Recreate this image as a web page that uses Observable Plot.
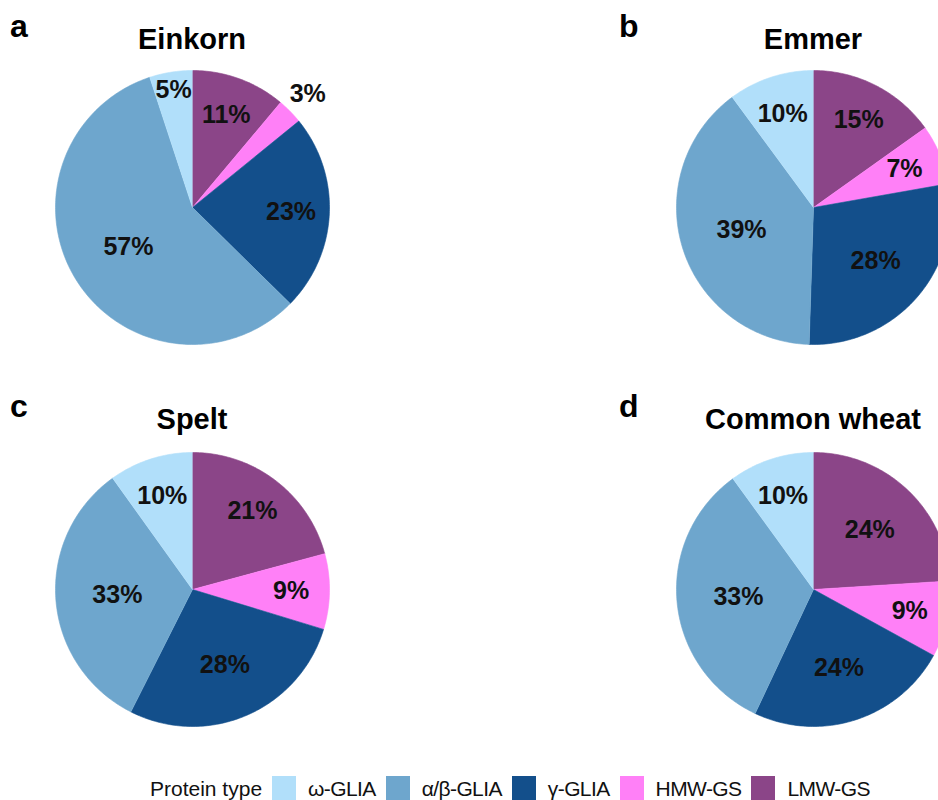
<!DOCTYPE html>
<html>
<head>
<meta charset="utf-8">
<script src="https://cdn.jsdelivr.net/npm/d3@7"></script>
<script src="https://cdn.jsdelivr.net/npm/@observablehq/plot@0.6"></script>
<style>
  html, body { margin: 0; padding: 0; background: #fff; }
  #root { position: relative; width: 938px; height: 800px; overflow: hidden; font-family: "Liberation Sans", Arial, sans-serif; }
  .letter { position: absolute; font-size: 32px; font-weight: bold; line-height: 1; color: #000; }
  .title { position: absolute; width: 400px; text-align: center; font-size: 29px; font-weight: bold; line-height: 1; color: #000; white-space: nowrap; }
  .pie { position: absolute; }
  .pie svg { max-width: none !important; display: block; }
  #legend { position: absolute; left: 150px; top: 776px; display: flex; align-items: center; font-size: 21px; line-height: 1; color: #111; white-space: nowrap; }
  #legend .sw { width: 24px; height: 24px; margin-left: 10px; }
  #legend .lb { margin-left: 12px; letter-spacing: -0.6px; }
</style>
</head>
<body>
<div id="root"></div>
<script>
// ---- data ----
const types = ["ω-GLIA", "α/β-GLIA", "γ-GLIA", "HMW-GS", "LMW-GS"];
const colors = ["#b1dffa", "#6ea6cd", "#134f8b", "#ff80f7", "#8b4588"];
const panelLetters = ["a", "b", "c", "d"];
const panelTitles = ["Einkorn", "Emmer", "Spelt", "Common wheat"];
// values (%) in the order of `types`
const einkorn = [5, 57, 23, 3, 11];
const emmer = [10, 39, 28, 7, 15];
const spelt = [10, 33, 28, 9, 21];
const commonWheat = [10, 33, 24, 9, 24];
const legendTitle = "Protein type";

// ---- layout ----
const R = 137;           // pie radius in px
const W = 380, H = 300;  // pie svg size
const centers = [[192, 207], [813, 207], [192, 589], [813, 589]];
const panelValues = [einkorn, emmer, spelt, commonWheat];
const sliceOrder = [4, 3, 2, 1, 0]; // clockwise from 12 o'clock: LMW, HMW, γ, α/β, ω

function labelRadius(share) {
  if (share < 0.04) return 1.18;
  if (share < 0.06) return 0.87;
  if (share < 0.235) return 0.72;
  if (share < 0.3) return 0.6;
  return 0.55;
}

function piePlot(values) {
  const total = d3.sum(values);
  let acc = 0;
  const poly = [], labels = [];
  for (const i of sliceOrder) {
    const v = values[i];
    const a0 = acc / total * 2 * Math.PI;
    acc += v;
    const a1 = acc / total * 2 * Math.PI;
    const n = Math.max(2, Math.ceil((a1 - a0) / (Math.PI / 180)));
    poly.push({type: types[i], x: 0, y: 0});
    for (let k = 0; k <= n; k++) {
      const a = a0 + (a1 - a0) * k / n;
      poly.push({type: types[i], x: Math.sin(a), y: Math.cos(a)});
    }
    const am = (a0 + a1) / 2;
    const rf = labelRadius(v / total);
    labels.push({type: types[i], value: v, x: rf * Math.sin(am), y: rf * Math.cos(am)});
  }
  return Plot.plot({
    width: W, height: H, margin: 0,
    x: {domain: [-W / 2 / R, W / 2 / R], axis: null},
    y: {domain: [-H / 2 / R, H / 2 / R], axis: null},
    color: {domain: types, range: colors},
    style: {fontFamily: '"Liberation Sans", Arial, sans-serif', background: "transparent", overflow: "visible", maxWidth: "none"},
    marks: [
      Plot.line(poly, {x: "x", y: "y", z: "type", fill: "type", stroke: "type", strokeWidth: 0.6}),
      Plot.text(labels, {x: "x", y: "y", text: d => d.value + "%", fontSize: 25, fontWeight: "bold", fill: "#111"})
    ]
  });
}

const root = document.getElementById("root");
panelValues.forEach((vals, p) => {
  const [cx, cy] = centers[p];
  const top = p < 2 ? 0 : 380;
  const letter = document.createElement("div");
  letter.className = "letter";
  letter.textContent = panelLetters[p];
  letter.style.left = (p % 2 === 0 ? 10 : 619) + "px";
  letter.style.top = (top + 10) + "px";
  root.appendChild(letter);

  const title = document.createElement("div");
  title.className = "title";
  title.textContent = panelTitles[p];
  title.style.left = (cx - 200) + "px";
  title.style.top = (top + 25) + "px";
  root.appendChild(title);

  const svg = piePlot(vals);
  const wrap = document.createElement("div");
  wrap.className = "pie";
  wrap.style.left = (cx - W / 2) + "px";
  wrap.style.top = (cy - H / 2) + "px";
  wrap.style.width = W + "px";
  wrap.style.height = H + "px";
  wrap.appendChild(svg);
  root.appendChild(wrap);
});

const legend = document.createElement("div");
legend.id = "legend";
const lt = document.createElement("span");
lt.textContent = legendTitle;
legend.appendChild(lt);
types.forEach((t, i) => {
  const sw = document.createElement("span");
  sw.className = "sw";
  sw.style.background = colors[i];
  legend.appendChild(sw);
  const lb = document.createElement("span");
  lb.className = "lb";
  lb.textContent = t;
  legend.appendChild(lb);
});
root.appendChild(legend);
</script>
</body>
</html>
